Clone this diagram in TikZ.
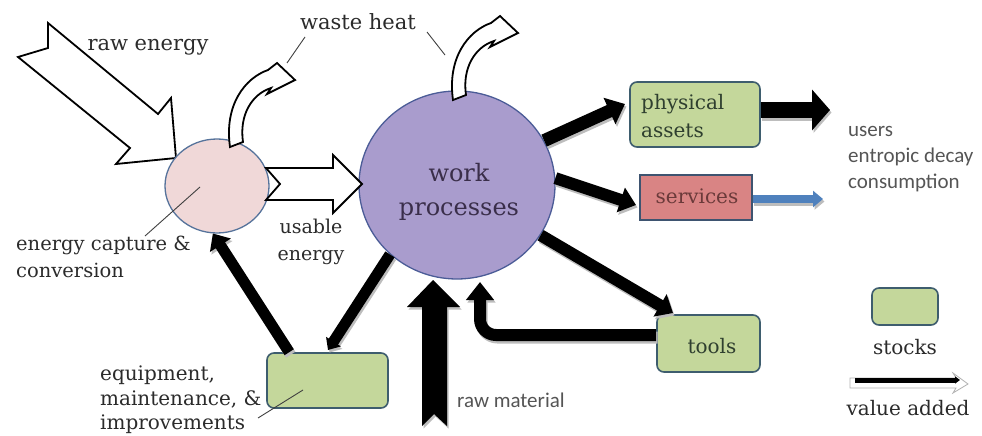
\documentclass[tikz,border=0pt]{standalone}
\usepackage{fontspec}
\setmainfont{DejaVu Serif}
\newfontfamily\carl{Carlito}
\usetikzlibrary{shapes.geometric,arrows.meta,calc}
\definecolor{ecf}{HTML}{F0D8D8}
\definecolor{ecb}{HTML}{56739B}
\definecolor{wpf}{HTML}{A99CCD}
\definecolor{wpb}{HTML}{4B5C97}
\definecolor{wpt}{HTML}{3A2E4A}
\definecolor{grn}{HTML}{C4D79B}
\definecolor{gbord}{HTML}{3E5D6E}
\definecolor{svf}{HTML}{D98484}
\definecolor{svb}{HTML}{3E5470}
\definecolor{svt}{HTML}{6B3A3A}
\definecolor{txt}{HTML}{2B2B2B}
\definecolor{pat}{HTML}{2F3F2F}
\definecolor{sanc}{HTML}{555555}
\definecolor{blu}{HTML}{4F81BD}
\definecolor{shadowcol}{HTML}{BDBDBD}
\newcommand\shadarrow[2]{%
  \begin{scope}[transform canvas={shift={(1.5pt,-2.5pt)}}]\draw[#1,shadowcol] #2;\end{scope}
  \draw[#1] #2;}
\newcommand\wharrow[1]{\draw[whitearr,#1] (230,147) .. controls (224,105) and (245,78) .. (268,70) -- (277,63) -- (295,80) -- (267,94) -- (271,88) .. controls (252,94) and (239,115) .. (243,142) -- cycle;}
\begin{document}
\begin{tikzpicture}[x=1pt,y=-1pt,
  ser/.style={font=\fontsize{20}{25}\selectfont, text=txt, inner sep=0pt},
  san/.style={font=\carl\fontsize{21}{26}\selectfont, text=sanc, inner sep=0pt},
  stock/.style={draw=gbord, line width=1.6pt, fill=grn, rounded corners=7pt, inner sep=0pt},
  leader/.style={draw=black!75, line width=0.9pt},
  whitearr/.style={draw=black, line width=1.8pt, fill=white, line join=miter},
]
\fill[white] (0,0) rectangle (982,436);
\useasboundingbox (0,0) rectangle (982,436);

% raw energy arrow
\draw[whitearr] (48,23) -- (158,114) -- (171,98) -- (176,158) -- (116,164) -- (130,148) -- (18,57) -- (48,48) -- cycle;

% main nodes
\node[ellipse, draw=ecb, line width=1.3pt, fill=ecf, minimum width=104pt, minimum height=94pt, inner sep=0pt] (ec) at (217,186) {};
\node[ellipse, draw=wpb, line width=1.3pt, fill=wpf, minimum width=196pt, minimum height=188pt, inner sep=0pt] (wp) at (457,185) {};
\node[font=\fontsize{24}{34}\selectfont, text=wpt, align=center, inner sep=0pt] (wptext) at (459,192) {work\\processes};

% usable energy arrow
\draw[whitearr] (266,168) -- (333,168) -- (333,155) -- (362,184) -- (333,213) -- (333,200) -- (266,200) -- (280,184) -- cycle;

% waste heat arrows
\wharrow{}
\wharrow{shift={(223,-47)}}

% stocks and services
\node[stock, minimum width=130pt, minimum height=65pt] (pa) at (695,114.5) {};
\node[ser, anchor=west, align=left, text=pat, font=\fontsize{20}{28}\selectfont] (patext) at (641,116) {physical\\assets};
\node[draw=svb, line width=1.6pt, fill=svf, minimum width=112pt, minimum height=45pt, inner sep=0pt] (sv) at (696,197.5) {};
\node[ser, text=svt] (svtext) at (697,196) {services};
\node[stock, minimum width=103pt, minimum height=57pt] (tl) at (708.5,343.5) {};
\node[ser, text=pat] (tltext) at (712,346) {tools};
\node[stock, minimum width=121pt, minimum height=55pt] (eq) at (327.5,380.5) {};
\node[stock, minimum width=66pt, minimum height=37pt] (lg) at (905,306.5) {};

% coordinates for arrow ends
\coordinate (tA) at (625,104);
\coordinate (tB) at (636,205);
\coordinate (tC) at (673,313);
\coordinate (tD) at (480,282);
\coordinate (tE) at (328,350);
\coordinate (tF) at (830,110);
\coordinate (tG) at (823,199);

% black value-added arrows
\shadarrow{line width=13pt,-{Triangle[length=17pt,width=28pt]}}{(wp.27) -- (tA)}
\shadarrow{line width=12pt,-{Triangle[length=16pt,width=25pt]}}{(wp.4) -- (tB)}
\shadarrow{line width=12pt,-{Triangle[length=15pt,width=25pt]}}{(wp.-31) -- (tC)}
\shadarrow{line width=12pt,rounded corners=16pt,-{Triangle[length=18pt,width=27pt]}}{([yshift=8.5pt]tl.west) -- (480,335) -- (tD)}
\shadarrow{line width=11pt,-{Triangle[length=10pt,width=17pt]}}{(wp.-134) -- (tE)}
\shadarrow{line width=11pt,-{Triangle[length=14pt,width=24pt]}}{([xshift=23pt]eq.north west) -- (ec.-95)}
\shadarrow{line width=16pt,-{Triangle[length=18pt,width=40pt]}}{([yshift=4.5pt]pa.east) -- (tF)}
\shadarrow{line width=8pt,blu,-{Triangle[length=10pt,width=16pt]}}{([yshift=-1.5pt]sv.east) -- (tG)}

% raw material arrow
\begin{scope}[transform canvas={shift={(1.5pt,-2.5pt)}}]
\fill[shadowcol] (422,426) -- (422,307) -- (407,307) -- (433,280) -- (460,307) -- (447,307) -- (447,426) -- (434,414) -- cycle;
\end{scope}
\fill[black] (422,426) -- (422,307) -- (407,307) -- (433,280) -- (460,307) -- (447,307) -- (447,426) -- (434,414) -- cycle;

% legend arrow
\coordinate (lgA) at (855,380);
\coordinate (lgB) at (960,380);
\draw[draw=gray!60, fill=white, line width=0.8pt] (850,378) -- (956,378) -- (953,373) -- (968,384) -- (953,393) -- (956,388) -- (850,388) -- cycle;
\draw[line width=5pt,-{Triangle[length=5pt,width=7pt]}] (lgA) -- (lgB);

% labels
\node[ser, font=\fontsize{21}{25}\selectfont] (rawe) at (148,47) {raw energy};
\node[ser, font=\fontsize{21}{25}\selectfont] (wh) at (358,22) {waste heat};
\node[ser, anchor=west, align=left, font=\fontsize{19.5}{27}\selectfont] (ectext) at (16,257) {energy capture \&\\conversion};
\node[ser, align=center, font=\fontsize{19}{27}\selectfont] (ue) at (311,242) {usable\\energy};
\node[ser, anchor=west, align=left, font=\fontsize{20}{24.5}\selectfont] (eqtext) at (100,400) {equipment,\\maintenance, \&\\improvements};
\node[san, anchor=west, align=left] (users) at (848,159) {users\\entropic decay\\consumption};
\node[san, anchor=west] (rm) at (457,400) {raw material};
\node[ser] (stk) at (905,347) {stocks};
\node[ser] (va) at (908,408) {value added};

% leader lines
\coordinate (whA) at (305,37);
\coordinate (whB) at (287,63);
\coordinate (whC) at (427,32);
\coordinate (whD) at (445,55);
\coordinate (ecA) at (200,187);
\coordinate (ecB) at (145,236);
\coordinate (eqA) at (303,390);
\coordinate (eqB) at (258,418);
\draw[leader] (whA) -- (whB);
\draw[leader] (whC) -- (whD);
\draw[leader] (ecA) -- (ecB);
\draw[leader] (eqA) -- (eqB);
\end{tikzpicture}
\end{document}
